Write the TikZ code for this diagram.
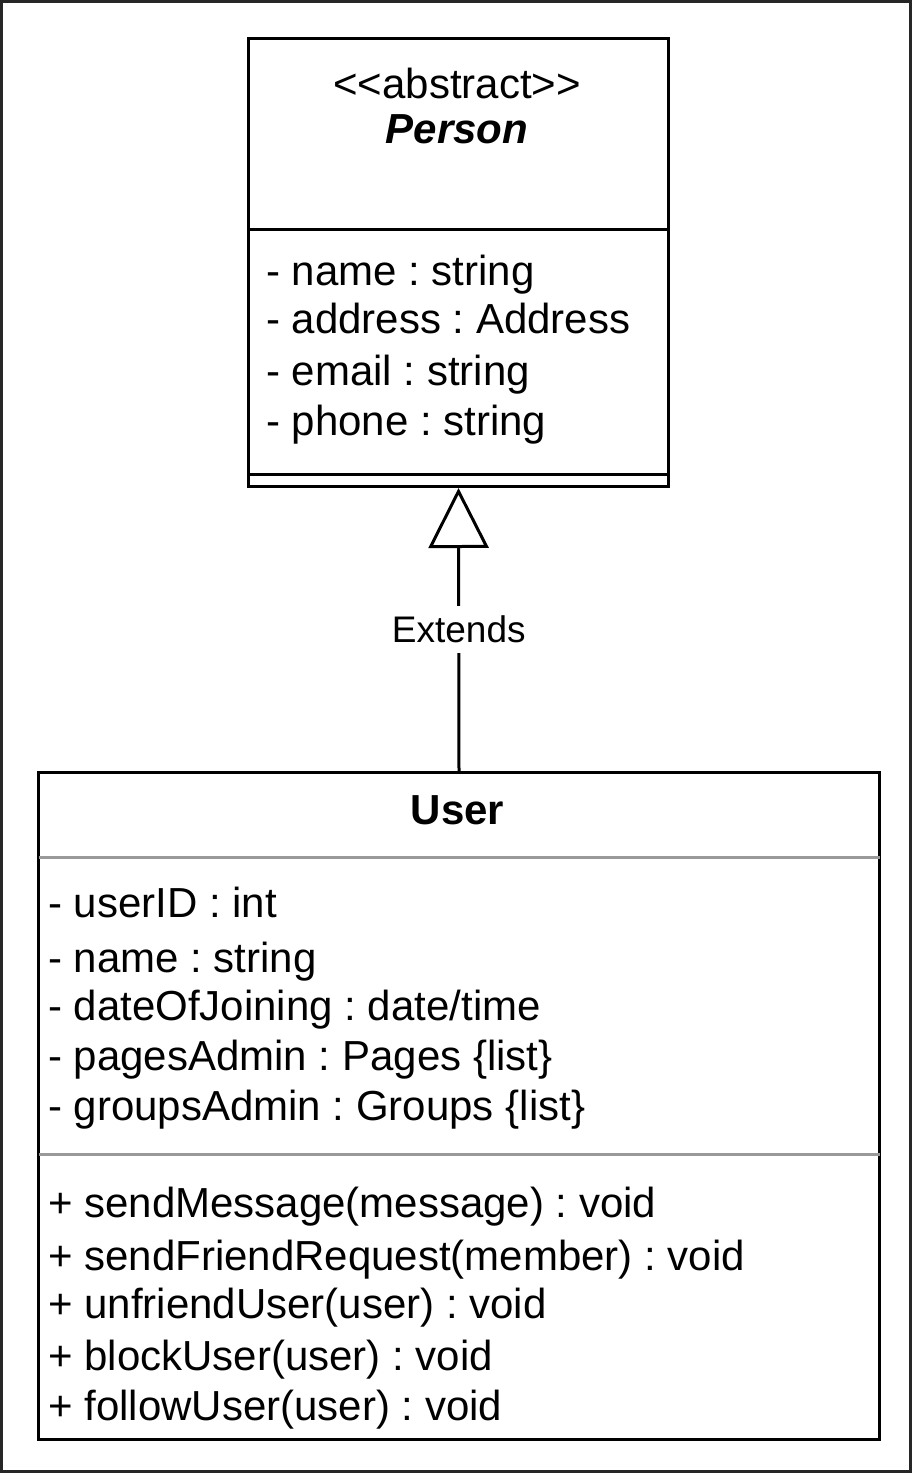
\documentclass[tikz,border=0pt]{standalone}
\usepackage{fontspec}
\setmainfont{Liberation Sans}
\usetikzlibrary{arrows.meta}
\frenchspacing

\tikzset{
  classbox/.style={draw, line width=3pt, rectangle, inner sep=0pt, anchor=north west},
  member/.style={anchor=base west, inner sep=0pt, font=\fontsize{42pt}{50pt}\selectfont},
  classname/.style={anchor=base, inner sep=0pt, font=\fontsize{42pt}{50pt}\selectfont},
  sepline/.style={line width=3pt},
  graysep/.style={line width=3pt, black!40, shorten >=1.5pt, shorten <=1.5pt},
}

\begin{document}
\begin{tikzpicture}[x=1pt, y=-1pt]
\fill[white] (0,0) rectangle (914,1475);
\useasboundingbox (0,0) rectangle (914,1475);
\draw[line width=3pt, black!85] (1.5,1.5) rectangle (910.5,1471.5);

% Person
\node[classbox, minimum width=420pt, minimum height=448pt] (person) at (247,37) {};
\node[classname] (pstereo) at (457,98) {<\kern0pt<abstract>\kern0pt>};
\node[classname, font=\fontsize{42pt}{50pt}\selectfont\bfseries\itshape] (pname) at (457,143) {Person};
\draw[sepline] ([yshift=-192pt]person.north west) -- ([yshift=-192pt]person.north east);
\draw[sepline] ([yshift=14pt]person.south west) -- ([yshift=14pt]person.south east);
\foreach \yy/\txt [count=\i] in {285/- name : string, 333/- address : Address, 385/- email : string, 435/- phone : string}
  \node[member] (pattr\i) at (266,\yy) {\txt};

% User
\node[classbox, minimum width=841pt, minimum height=667pt] (user) at (37,771) {};
\node[classname, font=\fontsize{42pt}{50pt}\selectfont\bfseries] (uname) at (457.5,824) {User};
\draw[graysep] ([yshift=-86pt]user.north west) -- ([yshift=-86pt]user.north east);
\draw[graysep] ([yshift=-383pt]user.north west) -- ([yshift=-383pt]user.north east);
\foreach \yy/\txt [count=\i] in {917/- userID : int, 972/- name : string, 1020/{- dateOfJoining : date/time}, 1070/- pagesAdmin : Pages \{list\}, 1120/- groupsAdmin : Groups \{list\}}
  \node[member] (uattr\i) at (48,\yy) {\txt};
\foreach \yy/\txt [count=\i] in {1217/+ sendMessage(message) : void, 1270/+ sendFriendRequest(member) : void, 1318/+ unfriendUser(user) : void, 1370/+ blockUser(user) : void, 1420/+ followUser(user) : void}
  \node[member] (umeth\i) at (48,\yy) {\txt};

\draw[line width=3pt, -{Triangle[open, length=60pt, width=60pt]}] (user.north) -- node[fill=white, inner sep=10pt, font=\fontsize{37pt}{44pt}\selectfont] (extends) {Extends} (person.south);

\end{tikzpicture}
\end{document}
